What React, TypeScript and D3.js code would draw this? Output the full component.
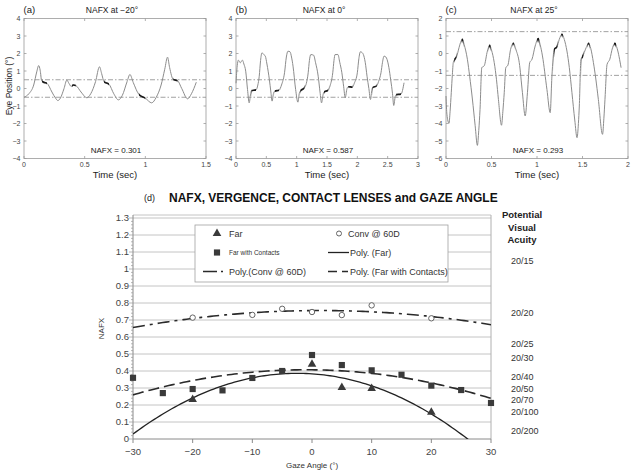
import React from "react";
import * as d3 from "d3";

const FONT = "'Liberation Sans', Arial, Helvetica, sans-serif";

// ---------- Panel (a): NAFX at −20° ----------
const timeA = [0, 0.04, 0.08, 0.105, 0.121, 0.133, 0.145, 0.165, 0.189, 0.23, 0.26, 0.279, 0.30, 0.33, 0.353, 0.37, 0.389, 0.405, 0.427, 0.47, 0.518, 0.55, 0.59, 0.622, 0.64, 0.66, 0.70, 0.74, 0.778, 0.81, 0.85, 0.873, 0.90, 0.947, 1.0, 1.052, 1.09, 1.13, 1.16, 1.183, 1.20, 1.23, 1.265, 1.30, 1.348, 1.38, 1.42];
const eyeA = [-0.5, -0.3, 0.2, 0.95, 1.31, 1.05, 0.45, 0.35, 0.3, -0.2, -0.55, -0.69, -0.55, 0.0, 0.48, 0.3, 0.12, 0.2, 0.17, -0.2, -0.53, -0.3, 0.4, 1.24, 0.85, 0.38, 0.25, -0.3, -0.65, -0.4, 0.4, 0.8, 0.35, -0.34, -0.55, -0.82, -0.5, 0.2, 1.1, 1.79, 1.2, 0.51, 0.45, 0.0, -0.59, -0.3, 0.36];
const fovA: [number, number][] = [[0.148, 0.189], [0.395, 0.427], [0.66, 0.70], [0.947, 1.0], [1.23, 1.265]];

// ---------- Panel (b): NAFX at 0° ----------
const timeB = [0, 0.02, 0.04, 0.07, 0.105, 0.13, 0.16, 0.19, 0.217, 0.245, 0.255, 0.33, 0.36, 0.383, 0.405, 0.428, 0.455, 0.483, 0.51, 0.55, 0.575, 0.595, 0.62, 0.64, 0.71, 0.75, 0.80, 0.83, 0.856, 0.89, 0.915, 0.94, 0.983, 1.02, 1.045, 1.06, 1.13, 1.16, 1.19, 1.21, 1.233, 1.28, 1.31, 1.355, 1.385, 1.41, 1.435, 1.45, 1.52, 1.55, 1.595, 1.615, 1.633, 1.68, 1.71, 1.745, 1.775, 1.80, 1.83, 1.85, 1.92, 1.95, 2.0, 2.025, 2.05, 2.08, 2.10, 2.13, 2.16, 2.19, 2.217, 2.24, 2.25, 2.32, 2.35, 2.39, 2.415, 2.44, 2.47, 2.49, 2.52, 2.55, 2.58, 2.60, 2.625, 2.64, 2.72, 2.77];
const eyeB = [0.3, 1.3, 1.62, 1.47, 1.62, 1.4, 0.99, -0.06, -0.82, -0.22, -0.12, -0.08, 0.2, 0.7, 1.6, 2.04, 1.95, 1.85, 1.4, 0.51, -0.2, -0.72, -0.25, -0.15, -0.1, 0.2, 0.9, 1.8, 2.13, 2.1, 1.8, 1.28, -0.06, -0.78, -0.25, -0.15, 0.05, 0.3, 0.9, 1.6, 1.94, 1.9, 1.5, 0.7, -0.2, -0.82, -0.35, -0.2, -0.1, 0.15, 0.9, 1.6, 1.94, 1.94, 1.5, 0.9, 0.1, -0.53, 0.0, 0.1, 0.08, 0.3, 0.9, 1.7, 2.1, 2.05, 1.94, 1.5, 0.7, 0.0, -0.63, -0.06, 0.05, 0.15, 0.4, 0.9, 1.5, 1.85, 1.8, 1.66, 1.2, 0.5, -0.3, -0.97, -0.46, -0.35, -0.32, 0.33];
const fovB: [number, number][] = [[0.255, 0.33], [0.64, 0.71], [1.06, 1.13], [1.45, 1.52], [1.85, 1.92], [2.25, 2.32], [2.64, 2.72]];

// ---------- Panel (c): NAFX at 25° ----------
const timeC = [0, 0.01, 0.033, 0.045, 0.058, 0.07, 0.08, 0.1, 0.115, 0.143, 0.165, 0.18, 0.2, 0.235, 0.26, 0.29, 0.32, 0.345, 0.36, 0.374, 0.393, 0.42, 0.455, 0.48, 0.5, 0.53, 0.555, 0.576, 0.61, 0.625, 0.64, 0.657, 0.68, 0.71, 0.74, 0.77, 0.805, 0.84, 0.87, 0.895, 0.92, 0.945, 0.98, 1.013, 1.035, 1.06, 1.109, 1.145, 1.164, 1.19, 1.22, 1.245, 1.274, 1.3, 1.329, 1.355, 1.384, 1.415, 1.44, 1.455, 1.465, 1.483, 1.5, 1.54, 1.567, 1.59, 1.62, 1.645, 1.674, 1.72, 1.735, 1.747, 1.77, 1.8, 1.83, 1.857, 1.88, 1.924];
const eyeC = [-2.43, -3.47, -3.99, -3.3, -2.24, -1.2, -0.52, -0.3, -0.2, 0.33, 0.7, 0.81, 0.5, -0.33, -1.3, -2.6, -4.1, -5.25, -4.4, -3.19, -0.81, -0.7, 0.14, 0.47, 0.2, -0.52, -1.5, -2.62, -4.1, -3.3, -2.24, -0.81, -0.67, 0.24, 0.58, 0.2, -0.52, -2.24, -3.57, -2.24, -0.52, -0.33, 0.43, 0.85, 0.5, -0.14, -2.05, -3.38, -1.29, 0.24, 0.38, 0.81, 1.1, 0.8, 0.14, -0.8, -2.24, -3.8, -4.81, -4.0, -3.0, -0.33, -0.19, 0.33, 0.58, 0.3, -0.52, -1.4, -2.62, -4.62, -3.7, -2.62, -0.62, -0.33, 0.33, 0.58, 0.3, -0.81];
const fovC: [number, number][] = [[0.09, 0.115], [0.17, 0.19], [0.47, 0.49], [0.73, 0.75], [1.0, 1.025], [1.185, 1.225], [1.265, 1.285], [1.49, 1.51], [1.555, 1.578], [1.845, 1.868]];

const panelLetters = ["(a)", "(b)", "(c)"];
const panelTitles = ["NAFX at −20°", "NAFX at 0°", "NAFX at 25°"];
const panelNafx = ["NAFX = 0.301", "NAFX = 0.587", "NAFX = 0.293"];
const panelTmax = [1.5, 3, 2];
const panelXTicks = [[0, 0.5, 1, 1.5], [0, 0.5, 1, 1.5, 2, 2.5, 3], [0, 0.5, 1, 1.5, 2]];
const panelYDomain: [number, number][] = [[-4, 4], [-4, 4], [-6, 2]];
const panelBand = [0.5, 0.5, 1.25];

// ---------- Panel (d): NAFX vs gaze angle ----------
const gazeFar = [-20, 0, 5, 10, 20];
const nafxFar = [0.235, 0.443, 0.306, 0.3, 0.16];
const gazeContacts = [-30, -25, -20, -15, -10, -5, 0, 5, 10, 15, 20, 25, 30];
const nafxContacts = [0.36, 0.27, 0.294, 0.286, 0.359, 0.4, 0.494, 0.435, 0.404, 0.378, 0.314, 0.288, 0.212];
const gazeConv = [-20, -10, -5, 0, 5, 10, 20];
const nafxConv = [0.714, 0.73, 0.766, 0.747, 0.729, 0.786, 0.71];
const gazeTicks = [-30, -20, -10, 0, 10, 20, 30];
const acuityLabels = ["20/15", "20/20", "20/25", "20/30", "20/40", "20/50", "20/70", "20/100", "20/200"];
const acuityNafx = [1.047, 0.741, 0.559, 0.476, 0.365, 0.294, 0.229, 0.159, 0.047];

const fmt = (n: number) => String(n).replace("-", "−");

function quadFit(x: number[], y: number[]): [number, number, number] {
  const s = (p: number) => d3.sum(x, (xi) => Math.pow(xi, p));
  const t = (p: number) => d3.sum(x, (xi, i) => Math.pow(xi, p) * y[i]);
  const M = [
    [s(0), s(1), s(2), t(0)],
    [s(1), s(2), s(3), t(1)],
    [s(2), s(3), s(4), t(2)],
  ];
  for (let i = 0; i < 3; i++) {
    for (let k = i + 1; k < 3; k++) {
      const f = M[k][i] / M[i][i];
      for (let j = i; j < 4; j++) M[k][j] -= f * M[i][j];
    }
  }
  const r = [0, 0, 0];
  for (let i = 2; i >= 0; i--) {
    let v = M[i][3];
    for (let j = i + 1; j < 3; j++) v -= M[i][j] * r[j];
    r[i] = v / M[i][i];
  }
  return [r[0], r[1], r[2]];
}

function TracePanel(props: {
  idx: number; x0: number; x1: number; t: number[]; v: number[]; fov: [number, number][];
}) {
  const { idx, x0, x1, t, v, fov } = props;
  const top = 18.5, bottom = 158.5;
  const xs = d3.scaleLinear().domain([0, panelTmax[idx]]).range([x0, x1]);
  const ys = d3.scaleLinear().domain(panelYDomain[idx]).range([bottom, top]);
  const pts: [number, number][] = t.map((tt, i) => [tt, v[i]]);
  const line = d3.line<[number, number]>().x((d) => xs(d[0])).y((d) => ys(d[1])).curve(d3.curveMonotoneX);
  const path = line(pts) || "";
  const yticks = d3.range(panelYDomain[idx][0], panelYDomain[idx][1] + 0.001, 1);
  const cx = (x0 + x1) / 2;
  const clipId = `fov-${idx}`;
  const tk = 2.5;
  const axisCol = "#9a9a9a";
  const band = panelBand[idx];
  return (
    <g>
      <defs>
        <clipPath id={clipId}>
          {fov.map(([a, b], i) => (
            <rect key={i} x={xs(a)} y={top} width={xs(b) - xs(a)} height={bottom - top} />
          ))}
        </clipPath>
      </defs>
      <rect x={x0} y={top} width={x1 - x0} height={bottom - top} fill="none" stroke={axisCol} strokeWidth={0.8} />
      {panelXTicks[idx].map((d, i) => (
        <g key={"x" + i}>
          <line x1={xs(d)} x2={xs(d)} y1={bottom} y2={bottom - tk} stroke={axisCol} strokeWidth={0.8} />
          <line x1={xs(d)} x2={xs(d)} y1={top} y2={top + tk} stroke={axisCol} strokeWidth={0.8} />
          <text x={xs(d)} y={167} fontSize={7} textAnchor="middle" fill="#444">{fmt(d)}</text>
        </g>
      ))}
      {yticks.map((d, i) => (
        <g key={"y" + i}>
          <line x1={x0} x2={x0 + tk} y1={ys(d)} y2={ys(d)} stroke={axisCol} strokeWidth={0.8} />
          <line x1={x1} x2={x1 - tk} y1={ys(d)} y2={ys(d)} stroke={axisCol} strokeWidth={0.8} />
          <text x={x0 - 3.5} y={ys(d) + 2.5} fontSize={7} textAnchor="end" fill="#444">{fmt(d)}</text>
        </g>
      ))}
      {[band, -band].map((b, i) => (
        <line key={"b" + i} x1={x0} x2={x1} y1={ys(b)} y2={ys(b)} stroke="#8a8a8a" strokeWidth={0.8} strokeDasharray="5,2,1.5,2" />
      ))}
      <path d={path} fill="none" stroke="#8c8c8c" strokeWidth={1} />
      <path d={path} clipPath={`url(#${clipId})`} fill="none" stroke="#1a1a1a" strokeWidth={1.7} />
      <text x={x0 - 0.5} y={13} fontSize={9.5} fill="#222">{panelLetters[idx]}</text>
      <text x={cx - 3} y={12.5} fontSize={8.5} textAnchor="middle" fill="#222">{panelTitles[idx]}</text>
      <text x={cx + 1} y={152.5} fontSize={8} textAnchor="middle" fill="#222">{panelNafx[idx]}</text>
      <text x={cx} y={177.5} fontSize={9.5} textAnchor="middle" fill="#222">Time (sec)</text>
      {idx === 0 && (
        <text transform={`translate(12,86) rotate(-90)`} fontSize={8.5} textAnchor="middle" fill="#222">Eye Position (°)</text>
      )}
    </g>
  );
}

function GazeChart() {
  const L = 133, R = 491, B = 439, T = 218;
  const xg = d3.scaleLinear().domain([-30, 30]).range([L, R]);
  const yg = d3.scaleLinear().domain([0, 1.3]).range([B, T]);
  const grid = d3.range(1, 14).map((i) => i / 10);
  const minor = d3.range(0, 66).map((i) => i / 50);
  const samples = d3.range(-30, 30.001, 0.5);
  const mk = (c: [number, number, number]) =>
    d3.line<number>().x((x) => xg(x)).y((x) => yg(c[0] + c[1] * x + c[2] * x * x))(samples) || "";
  const fitFar = quadFit(gazeFar, nafxFar);
  const fitCon = quadFit(gazeContacts, nafxContacts);
  const fitConv = quadFit(gazeConv, nafxConv);
  const tri = d3.symbol().type(d3.symbolTriangle).size(32)() || "";
  const sq = d3.symbol().type(d3.symbolSquare).size(38)() || "";
  const markCol = "#3a3a3a";
  const dashCon = "11,5";
  const dashConv = "12,5,3,5";
  return (
    <g fontFamily={FONT}>
      <defs>
        <clipPath id="gclip">
          <rect x={L} y={T - 3} width={R - L} height={B - T + 3} />
        </clipPath>
      </defs>
      <text x={144} y={201} fontSize={9} fill="#222">(d)</text>
      <text x={169} y={202} fontSize={12} fontWeight="bold" fill="#111">NAFX, VERGENCE, CONTACT LENSES and GAZE ANGLE</text>
      {grid.map((g, i) => (
        <line key={i} x1={L} x2={R} y1={yg(g)} y2={yg(g)} stroke="#c4c4c4" strokeWidth={1} />
      ))}
      <line x1={L} x2={R} y1={T - 3} y2={T - 3} stroke="#c4c4c4" strokeWidth={1} />
      <line x1={R} x2={R} y1={T - 3} y2={B} stroke="#b0b0b0" strokeWidth={1} />
      <line x1={L} x2={L} y1={T - 3} y2={B} stroke="#8a8a8a" strokeWidth={1} />
      <line x1={L} x2={R} y1={B} y2={B} stroke="#8a8a8a" strokeWidth={1} />
      {minor.map((m, i) => (
        <line key={i} x1={L - (i % 5 === 0 ? 4 : 2)} x2={L} y1={yg(m)} y2={yg(m)} stroke="#9a9a9a" strokeWidth={0.7} />
      ))}
      {grid.concat([0]).map((g, i) => (
        <text key={i} x={129} y={yg(g) + 3.2} fontSize={9.5} textAnchor="end" fill="#444">{fmt(g)}</text>
      ))}
      {gazeTicks.map((g, i) => (
        <g key={i}>
          <line x1={xg(g)} x2={xg(g)} y1={B} y2={B + 4} stroke="#8a8a8a" strokeWidth={1} />
          <text x={xg(g)} y={455} fontSize={9.5} textAnchor="middle" fill="#444">{fmt(g)}</text>
        </g>
      ))}
      <text transform={`translate(104,${(T + B) / 2}) rotate(-90)`} fontSize={8} textAnchor="middle" fill="#333">NAFX</text>
      <text x={312} y={468} fontSize={8} textAnchor="middle" fill="#333">Gaze Angle (°)</text>

      <g clipPath="url(#gclip)" fill="none">
        <path d={mk(fitConv)} stroke="#2a2a2a" strokeWidth={1.6} strokeDasharray={dashConv} />
        <path d={mk(fitCon)} stroke="#2a2a2a" strokeWidth={1.6} strokeDasharray={dashCon} />
        <path d={mk(fitFar)} stroke="#222" strokeWidth={1.3} />
      </g>

      {gazeConv.map((g, i) => (
        <circle key={"c" + i} cx={xg(g)} cy={yg(nafxConv[i])} r={2.7} fill="#fff" stroke="#555" strokeWidth={0.9} />
      ))}
      {gazeContacts.map((g, i) => (
        <path key={"s" + i} d={sq} transform={`translate(${xg(g)},${yg(nafxContacts[i])})`} fill={markCol} />
      ))}
      {gazeFar.map((g, i) => (
        <path key={"t" + i} d={tri} transform={`translate(${xg(g)},${yg(nafxFar[i]) + 0.5})`} fill={markCol} />
      ))}

      {/* legend */}
      <rect x={195} y={225} width={253} height={57} fill="#fff" stroke="#a0a0a0" strokeWidth={0.8} />
      <path d={tri} transform="translate(217,233.5)" fill={markCol} />
      <text x={229} y={236.5} fontSize={9} fill="#333">Far</text>
      <circle cx={339} cy={233.5} r={2.5} fill="#fff" stroke="#555" strokeWidth={0.9} />
      <text x={348} y={236.5} fontSize={9} fill="#333">Conv @ 60D</text>
      <path d={sq} transform="translate(217,252.5)" fill={markCol} />
      <text x={229} y={255} fontSize={6.5} fill="#333">Far with Contacts</text>
      <line x1={328} x2={349} y1={252.5} y2={252.5} stroke="#222" strokeWidth={1.3} />
      <text x={350} y={255.5} fontSize={9} fill="#333">Poly. (Far)</text>
      <line x1={203} x2={226} y1={271.5} y2={271.5} stroke="#2a2a2a" strokeWidth={1.6} strokeDasharray="14,4,2,4" />
      <text x={229} y={274.5} fontSize={9} fill="#333">Poly.(Conv @ 60D)</text>
      <line x1={328} x2={348} y1={271.5} y2={271.5} stroke="#2a2a2a" strokeWidth={1.6} strokeDasharray="9,5" />
      <text x={350} y={274.5} fontSize={9} fill="#333">Poly. (Far with Contacts)</text>

      {/* potential visual acuity */}
      <text x={522} y={218} fontSize={9.5} fontWeight="bold" textAnchor="middle" fill="#222">Potential</text>
      <text x={522} y={230.5} fontSize={9.5} fontWeight="bold" textAnchor="middle" fill="#222">Visual</text>
      <text x={522} y={243} fontSize={9.5} fontWeight="bold" textAnchor="middle" fill="#222">Acuity</text>
      {acuityLabels.map((a, i) => (
        <text key={i} x={511} y={yg(acuityNafx[i]) + 3.2} fontSize={9} fill="#333">{a}</text>
      ))}
    </g>
  );
}

export default function App() {
  return (
    <svg width={641} height={475} style={{ position: "absolute", left: 0, top: 0, background: "#fff" }} fontFamily={FONT}>
      <rect x={0} y={0} width={641} height={475} fill="#fff" />
      <TracePanel idx={0} x0={24} x1={206} t={timeA} v={eyeA} fov={fovA} />
      <TracePanel idx={1} x0={236} x1={418} t={timeB} v={eyeB} fov={fovB} />
      <TracePanel idx={2} x0={446} x1={628} t={timeC} v={eyeC} fov={fovC} />
      <GazeChart />
    </svg>
  );
}
